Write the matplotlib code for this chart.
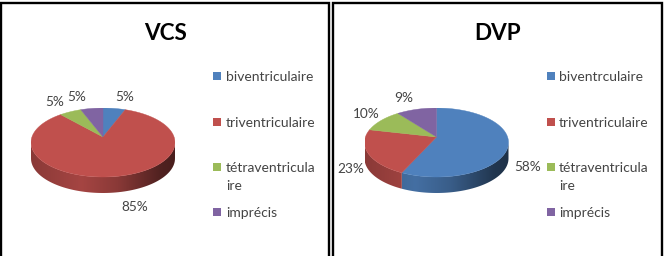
import numpy as np
import matplotlib
matplotlib.use("Agg")
import matplotlib.pyplot as plt
from matplotlib.colors import LinearSegmentedColormap
from matplotlib.patches import Polygon, Rectangle

W, H = 664, 256

categories_vcs = ["biventriculaire", "triventriculaire", "tétraventricula\nire", "imprécis"]
categories_dvp = ["biventrculaire", "triventriculaire", "tétraventricula\nire", "imprécis"]
values_vcs = [5, 85, 5, 5]
values_dvp = [58, 23, 10, 9]
colors = ["#4f81bd", "#c0504d", "#9bbb59", "#8064a2"]

plt.rcParams["font.family"] = ["Lato", "DejaVu Sans"]

fig = plt.figure(figsize=(W / 100, H / 100), dpi=100, facecolor="white")

# calque en pixels pour les cadres, titres et legendes
bg = fig.add_axes([0, 0, 1, 1])
bg.set_xlim(0, W)
bg.set_ylim(H, 0)
bg.axis("off")

DEPTH = 16 / 34.5
APEX = 5.5 / 34.5


def shade(rgb):
    stops = [(0.0, 0.72), (0.35, 0.86), (0.6, 0.72), (0.9, 0.42), (1.0, 0.38)]
    base = np.array(matplotlib.colors.to_rgb(rgb))
    return LinearSegmentedColormap.from_list("side", [(p, tuple(base * k)) for p, k in stops])


def draw_pie(cx, cy, values):
    # camembert 3D : ellipse de 144 x 69 px, tranche de 16 px
    ax = fig.add_axes([(cx - 72) / W, 1 - (cy + 34.5 + 16) / H, 144 / W, (69 + 16) / H])
    ax.set_xlim(-1, 1)
    ax.set_ylim(-1 - DEPTH, 1)
    ax.axis("off")
    edges = np.cumsum([0] + list(values)) / 100 * 2 * np.pi

    # cote visible : moitie basse du bord uniquement
    grad = np.linspace(0, 1, 256).reshape(1, -1)
    for a, b, col in zip(edges[:-1], edges[1:], colors):
        a2, b2 = max(a, np.pi / 2), min(b, 3 * np.pi / 2)
        if a2 >= b2:
            continue
        t = np.linspace(a2, b2, 80)
        x, y = np.sin(t), np.cos(t)
        side = np.column_stack([np.r_[x, x[::-1]], np.r_[y, y[::-1] - DEPTH]])
        im = ax.imshow(grad, extent=[-1, 1, -1 - DEPTH, 1], cmap=shade(col),
                       aspect="auto", zorder=1, vmin=0, vmax=1)
        im.set_clip_path(Polygon(side, transform=ax.transData))

    # face superieure, sens horaire depuis le haut
    for a, b, col in zip(edges[:-1], edges[1:], colors):
        t = np.linspace(a, b, 200)
        x = np.r_[0, np.sin(t)]
        y = np.r_[APEX, np.cos(t)]
        ax.fill(x, y, color=col, lw=0.3, zorder=2)
    ax.set_xlim(-1, 1)
    ax.set_ylim(-1 - DEPTH, 1)


def draw_panel(x0, x1, title, title_x, cx, values, cats, label_pos, mark_x, text_x):
    bg.plot([x0, x0, x1, x1], [H + 2, 3, 3, H + 2], color="black", lw=1.7, solid_joinstyle="miter")
    bg.text(title_x, 33.5, title, fontsize=16.2, fontweight="bold", color="black", ha="center", va="center")
    draw_pie(cx, 142.5, values)
    for val, (px, py) in zip(values, label_pos):
        bg.text(px, py + 1, f"{val}%", fontsize=9.8, color="#444444", ha="center", va="center")
    for cat, col, py in zip(cats, colors, [76, 122, 167, 212]):
        bg.add_patch(Rectangle((mark_x, py - 4), 8, 8, color=col, lw=0))
        bg.text(text_x, py + 1, cat.split("\n")[0], fontsize=10, color="#444444", va="center")
        if "\n" in cat:
            bg.text(text_x, py + 19, cat.split("\n")[1], fontsize=10, color="#444444", va="center")


draw_panel(1, 329, "VCS", 165, 103, values_vcs, categories_vcs,
           [(125, 96), (135, 206), (55, 101), (77, 96)], 213, 226)
draw_panel(333, 661.5, "DVP", 498, 436.5, values_dvp, categories_dvp,
           [(528, 166), (351, 168), (366, 113), (404, 97)], 547, 559)

fig.savefig("out.png", dpi=100)
